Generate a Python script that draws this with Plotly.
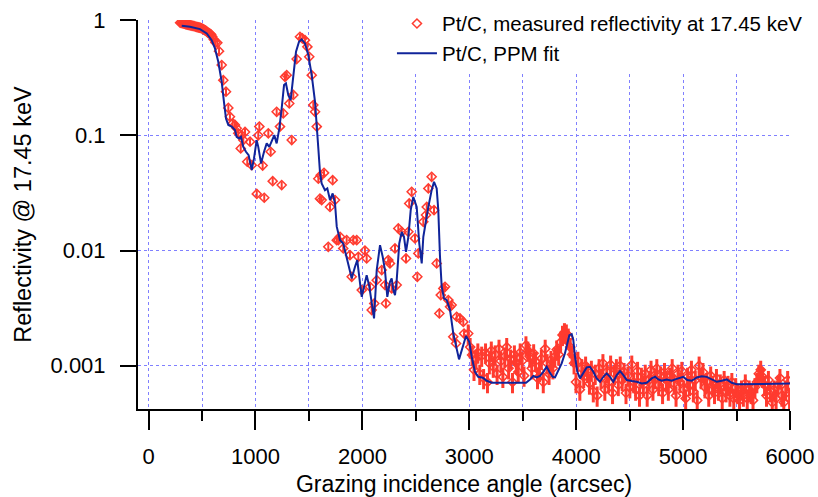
import plotly.graph_objects as go

# ---- measured reflectivity, Pt/C at 17.45 keV (high-reflectivity part, 300-2950 arcsec)
meas_x = [295, 305, 315, 325, 335, 345, 355, 365, 375, 385, 395, 405, 415, 425, 435,
          445, 455, 465, 475, 485, 495, 505, 515, 525, 535, 545, 555, 565, 575, 585,
          595, 610, 625, 643, 659, 684, 699, 724, 746, 761, 787, 808, 824, 839, 862,
          871, 886, 902, 923, 949, 965, 1012, 1026, 1036, 1067, 1082, 1120, 1142, 1161,
          1198, 1229, 1245, 1260, 1276, 1292, 1316, 1339, 1354, 1385, 1416, 1438, 1463,
          1485, 1503, 1526, 1541, 1557, 1573, 1588, 1603, 1610, 1619, 1641, 1681, 1697,
          1722, 1744, 1760, 1775, 1791, 1821, 1853, 1884, 1900, 1915, 1947, 1962, 1994,
          2024, 2040, 2071, 2087, 2111, 2134, 2181, 2212, 2220, 2242, 2258, 2274, 2305,
          2321, 2336, 2368, 2408, 2430, 2438, 2461, 2492, 2514, 2523, 2570, 2595, 2602,
          2617, 2648, 2670, 2695, 2720, 2733, 2757, 2773, 2804, 2820, 2835, 2850, 2876,
          2882, 2913, 2944, 2951]
meas_y = [0.95, 0.945, 0.94, 0.935, 0.93, 0.925, 0.92, 0.915, 0.91, 0.905, 0.9, 0.895,
          0.89, 0.885, 0.88, 0.875, 0.87, 0.865, 0.86, 0.855, 0.85, 0.84, 0.83, 0.82,
          0.81, 0.795, 0.78, 0.77, 0.76, 0.75, 0.72, 0.68, 0.64, 0.635, 0.538, 0.407,
          0.301, 0.239, 0.173, 0.145, 0.127, 0.123, 0.115, 0.104, 0.077, 0.100, 0.091,
          0.107, 0.059, 0.088, 0.055, 0.031, 0.100, 0.119, 0.0546, 0.0287, 0.104, 0.072,
          0.040, 0.160, 0.119, 0.037, 0.155, 0.322, 0.333, 0.189, 0.091, 0.224, 0.459,
          0.716, 0.694, 0.670, 0.586, 0.480, 0.333, 0.183, 0.160, 0.119, 0.042, 0.0282,
          0.045, 0.0274, 0.0472, 0.01077, 0.0239, 0.0408, 0.0274, 0.0123, 0.0123, 0.01315,
          0.01043, 0.0123, 0.00912, 0.00591, 0.0123, 0.0123, 0.00882, 0.00453, 0.0100,
          0.00853, 0.00484, 0.00304, 0.00347, 0.00553, 0.00676, 0.00501, 0.00347, 0.00825,
          0.00773, 0.00469, 0.01043, 0.00501, 0.01556, 0.01452, 0.00853, 0.01452, 0.0256,
          0.0323, 0.01274, 0.00591, 0.00944, 0.01775, 0.0203, 0.0239, 0.0346, 0.0436,
          0.0224, 0.00773, 0.00284, 0.0041, 0.00469, 0.00484, 0.00371, 0.00325, 0.00336,
          0.00178, 0.00156, 0.00266, 0.00257, 0.0024, 0.0019]

# ---- measured reflectivity, noisy tail (2990-6000 arcsec)
tail_x = [2990, 3008, 3026, 3044, 3062, 3080, 3098, 3116, 3134, 3152, 3170, 3188, 3206,
          3224, 3242, 3260, 3278, 3296, 3314, 3332, 3350, 3368, 3386, 3404, 3422, 3440,
          3458, 3476, 3494, 3512, 3530, 3548, 3566, 3584, 3602, 3620, 3638, 3656, 3674,
          3692, 3710, 3728, 3746, 3764, 3782, 3800, 3818, 3836, 3854, 3872, 3890, 3908,
          3926, 3944, 3962, 3980, 3998, 4016, 4034, 4052, 4070, 4088, 4106, 4124, 4142,
          4160, 4178, 4196, 4214, 4232, 4250, 4268, 4286, 4304, 4322, 4340, 4358, 4376,
          4394, 4412, 4430, 4448, 4466, 4484, 4502, 4520, 4538, 4556, 4574, 4592, 4610,
          4628, 4646, 4664, 4682, 4700, 4718, 4736, 4754, 4772, 4790, 4808, 4826, 4844,
          4862, 4880, 4898, 4916, 4934, 4952, 4970, 4988, 5006, 5024, 5042, 5060, 5078,
          5096, 5114, 5132, 5150, 5168, 5186, 5204, 5222, 5240, 5258, 5276, 5294, 5312,
          5330, 5348, 5366, 5384, 5402, 5420, 5438, 5456, 5474, 5492, 5510, 5528, 5546,
          5564, 5582, 5600, 5618, 5636, 5654, 5672, 5690, 5708, 5726, 5744, 5762, 5780,
          5798, 5816, 5834, 5852, 5870, 5888, 5906, 5924, 5942, 5960, 5978, 5996]
tail_y = [1.9e-3, 1.45e-3, 1.24e-3, 0.92e-3, 1.15e-3, 1.30e-3, 0.85e-3, 1.22e-3, 0.78e-3,
          1.30e-3, 0.72e-3, 1.05e-3, 1.35e-3, 0.98e-3, 1.25e-3, 0.85e-3, 1.40e-3, 1.10e-3,
          0.80e-3, 1.20e-3, 1.45e-3, 0.95e-3, 1.15e-3, 0.72e-3, 1.25e-3, 1.05e-3, 0.88e-3,
          1.30e-3, 1.10e-3, 0.82e-3, 1.50e-3, 1.35e-3, 1.20e-3, 0.95e-3, 1.28e-3, 1.10e-3,
          0.78e-3, 0.90e-3, 1.15e-3, 0.72e-3, 1.40e-3, 1.05e-3, 0.85e-3, 1.12e-3, 0.95e-3,
          1.20e-3, 1.38e-3, 1.25e-3, 1.60e-3, 1.85e-3, 1.95e-3, 1.90e-3, 1.75e-3, 1.45e-3,
          1.25e-3, 1.05e-3, 0.72e-3, 1.10e-3, 0.62e-3, 0.95e-3, 0.80e-3, 1.00e-3, 0.88e-3,
          0.70e-3, 0.92e-3, 0.60e-3, 0.85e-3, 0.55e-3, 0.95e-3, 0.78e-3, 1.05e-3, 0.62e-3,
          0.88e-3, 0.72e-3, 1.02e-3, 0.58e-3, 0.85e-3, 0.95e-3, 0.68e-3, 1.00e-3, 0.75e-3,
          0.88e-3, 0.58e-3, 0.82e-3, 0.65e-3, 1.02e-3, 0.72e-3, 0.62e-3, 0.90e-3, 0.55e-3,
          0.80e-3, 0.68e-3, 0.85e-3, 0.55e-3, 0.75e-3, 0.92e-3, 0.62e-3, 0.78e-3, 0.95e-3,
          0.68e-3, 0.82e-3, 0.58e-3, 0.88e-3, 0.75e-3, 0.62e-3, 0.80e-3, 0.95e-3, 0.70e-3,
          0.55e-3, 0.85e-3, 0.72e-3, 0.90e-3, 0.62e-3, 0.52e-3, 0.80e-3, 0.68e-3, 0.92e-3,
          0.60e-3, 0.75e-3, 0.50e-3, 1.00e-3, 0.78e-3, 0.88e-3, 0.65e-3, 0.72e-3, 0.55e-3,
          0.82e-3, 0.68e-3, 0.58e-3, 0.78e-3, 0.62e-3, 0.70e-3, 0.52e-3, 0.75e-3, 0.60e-3,
          0.68e-3, 0.55e-3, 0.72e-3, 0.52e-3, 0.65e-3, 0.58e-3, 0.50e-3, 0.62e-3, 0.55e-3,
          0.70e-3, 0.52e-3, 0.62e-3, 0.58e-3, 0.50e-3, 0.65e-3, 0.72e-3, 0.85e-3, 0.92e-3,
          0.80e-3, 0.68e-3, 0.55e-3, 0.75e-3, 0.60e-3, 0.48e-3, 0.62e-3, 0.52e-3, 0.68e-3,
          0.78e-3, 0.55e-3, 0.48e-3, 0.62e-3, 0.75e-3, 0.52e-3]

# ---- PPM fit
fit_x = [310, 387, 481, 544, 590, 621, 652, 684, 705, 724, 746, 777, 808, 824, 846, 864,
         886, 911, 936, 965, 986, 1011, 1026, 1052, 1080, 1105, 1129, 1152, 1176, 1198,
         1223, 1245, 1267, 1285, 1307, 1329, 1354, 1379, 1407, 1432, 1463, 1494, 1526,
         1557, 1588, 1603, 1619, 1650, 1672, 1697, 1722, 1744, 1760, 1791, 1821, 1853,
         1900, 1931, 1952, 1978, 1994, 2015, 2040, 2065, 2087, 2109, 2134, 2165, 2190,
         2211, 2233, 2258, 2274, 2289, 2305, 2321, 2345, 2368, 2389, 2408, 2430, 2452,
         2476, 2508, 2532, 2555, 2570, 2595, 2617, 2648, 2670, 2695, 2710, 2726, 2742,
         2763, 2789, 2820, 2850, 2904, 2938, 2969, 3000, 3023, 3053, 3084, 3126, 3163,
         3210, 3531, 3568, 3599, 3631, 3661, 3692, 3724, 3749, 3780, 3802, 3833, 3864,
         3895, 3926, 3936, 3958, 3973, 3989, 4011, 4036, 4067, 4098, 4129, 4160, 4192,
         4223, 4254, 4285, 4316, 4347, 4379, 4410, 4441, 4473, 4520, 4566, 4613, 4660,
         4706, 4738, 4768, 4800, 4847, 4894, 4925, 4971, 5002, 5039, 5081, 5128, 5174,
         5221, 5268, 5315, 5361, 5408, 5455, 5501, 6000]
fit_y = [0.892, 0.875, 0.835, 0.767, 0.670, 0.568, 0.435, 0.291, 0.195, 0.140, 0.123,
         0.119, 0.111, 0.0970, 0.0940, 0.0970, 0.0794, 0.0719, 0.0673, 0.0499, 0.0630,
         0.0908, 0.0794, 0.0570, 0.0719, 0.0851, 0.0794, 0.0879, 0.1004, 0.0851, 0.115,
         0.171, 0.273, 0.282, 0.223, 0.202, 0.333, 0.531, 0.648, 0.680, 0.628, 0.497,
         0.333, 0.195, 0.0769, 0.0482, 0.0382, 0.0334, 0.0346, 0.0274, 0.0313, 0.0256,
         0.0161, 0.0123, 0.0115, 0.00882, 0.00573, 0.00722, 0.00825, 0.00518, 0.00396,
         0.00484, 0.00611, 0.00484, 0.00347, 0.00257, 0.00676, 0.01114, 0.00882, 0.00676,
         0.00396, 0.00535, 0.00573, 0.00453, 0.0041, 0.00553, 0.0115, 0.01452, 0.01315,
         0.00975, 0.01315, 0.0224, 0.0292, 0.0239, 0.0115, 0.00773, 0.01315, 0.01836,
         0.0239, 0.0334, 0.0395, 0.0346, 0.0224, 0.00882, 0.00484, 0.00384, 0.00371,
         0.00304, 0.00191, 0.001135, 0.00146, 0.00181, 0.00161, 0.00119, 0.000885,
         0.000801, 0.000785, 0.000740, 0.000711, 0.000711, 0.00076, 0.000813, 0.000791,
         0.000813, 0.000885, 0.000978, 0.000885, 0.000801, 0.000791, 0.000916, 0.001047,
         0.00128, 0.00178, 0.00184, 0.00188, 0.00167, 0.00119, 0.000885, 0.000776,
         0.000857, 0.000967, 0.000978, 0.000885, 0.000776, 0.000725, 0.000801, 0.000857,
         0.000801, 0.000725, 0.000829, 0.000898, 0.000829, 0.00075, 0.000735, 0.000725,
         0.000702, 0.000711, 0.000776, 0.000801, 0.00076, 0.000741, 0.00076, 0.000741,
         0.00076, 0.00079, 0.0008, 0.00075, 0.00074, 0.00079, 0.00081, 0.0008, 0.00076,
         0.000725, 0.00074, 0.00076, 0.00071, 0.00069, 0.0007]

x_ticks = [0, 1000, 2000, 3000, 4000, 5000, 6000]
y_ticks = [1, 0.1, 0.01, 0.001]
y_ticktext = ["1", "0.1", "0.01", "0.001"]

RED = "#ff3b2f"
NAVY = "#10249a"
GRID = "rgb(128,128,255)"
FONT = "Liberation Sans, Arial, sans-serif"

fig = go.Figure()
fig.add_trace(go.Scatter(
    x=meas_x, y=meas_y, mode="markers", name="Pt/C, measured reflectivity at 17.45 keV",
    legendgroup="meas",
    marker=dict(symbol="diamond-open", size=7, color=RED, line=dict(width=1.5, color=RED)),
    error_y=dict(type="percent", value=7, color=RED, thickness=2, width=0),
))
fig.add_trace(go.Scatter(
    x=tail_x, y=tail_y, mode="markers", showlegend=False, legendgroup="meas",
    marker=dict(symbol="diamond-open", size=7, color=RED, line=dict(width=1.5, color=RED)),
    error_y=dict(type="percent", value=20, color=RED, thickness=3, width=0),
))
fig.add_trace(go.Scatter(
    x=fit_x, y=fit_y, mode="lines", name="Pt/C, PPM fit",
    line=dict(color=NAVY, width=2),
))

fig.update_layout(
    width=818, height=497,
    margin=dict(l=138, r=28, t=20, b=88, autoexpand=False),
    paper_bgcolor="white", plot_bgcolor="white",
    font=dict(family=FONT, size=22, color="black"),
    showlegend=True,
    legend=dict(x=0.3895, y=1.042, xanchor="left", yanchor="top", bgcolor="white",
                font=dict(family=FONT, size=20.5, color="black"),
                tracegroupgap=0, itemwidth=40),
)
fig.update_xaxes(
    range=[-99, 6000], tickvals=x_ticks, ticks="outside", ticklen=19, tickwidth=2,
    tickcolor="black", showline=True, linewidth=2, linecolor="black",
    showgrid=True, gridcolor=GRID, gridwidth=1, griddash="3px,3px", zeroline=False,
    minor=dict(dtick=500, tick0=0, ticks="outside", ticklen=10, tickwidth=2,
               tickcolor="black", showgrid=True, gridcolor=GRID, gridwidth=1,
               griddash="3px,3px"),
    ticklabelstandoff=8, automargin=False,
    title=dict(text="Grazing incidence angle (arcsec)", font=dict(size=23), standoff=8),
)
fig.update_yaxes(
    type="log", range=[-3.376, 0.001], tickvals=y_ticks, ticktext=y_ticktext,
    ticks="outside", ticklen=16, tickwidth=2, tickcolor="black",
    showline=True, linewidth=2, linecolor="black",
    showgrid=True, gridcolor=GRID, gridwidth=1, griddash="3px,3px", zeroline=False,
    ticklabelstandoff=10, automargin=False,
    title=dict(text="Reflectivity @ 17.45 keV", font=dict(size=23.5), standoff=12),
)

fig.write_html(
    "out.html",
    config={"displayModeBar": False},
    post_script="document.body.style.margin='0';document.body.style.overflow='hidden';",
)
